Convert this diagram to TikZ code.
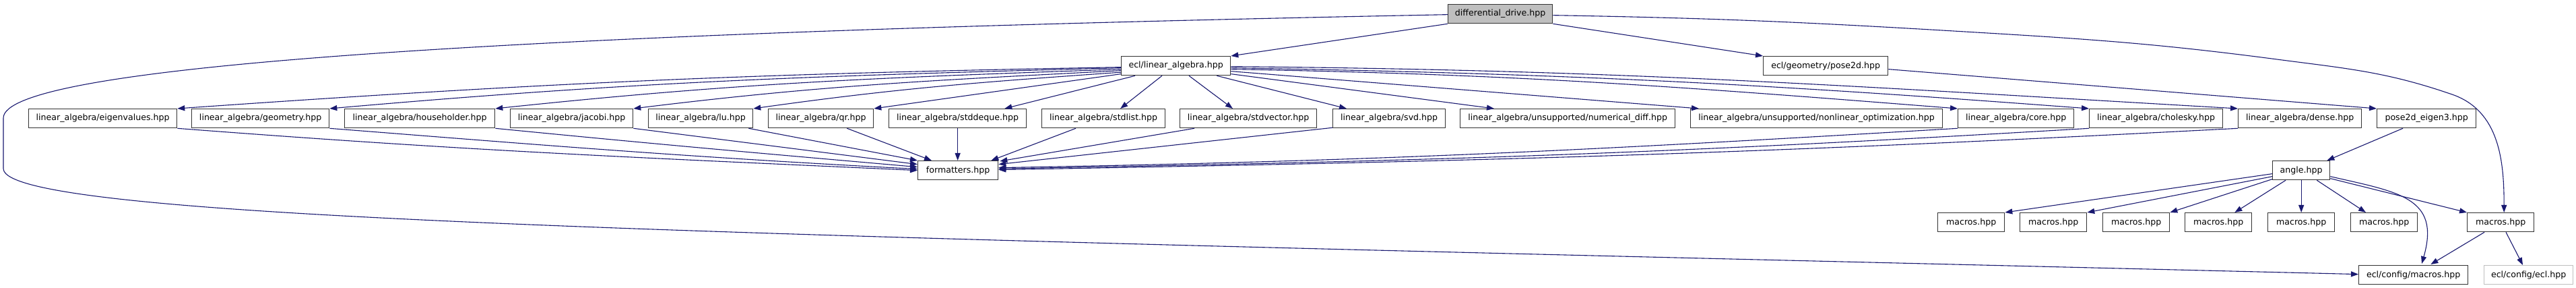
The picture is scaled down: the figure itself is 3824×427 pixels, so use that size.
\documentclass[tikz,border=0pt]{standalone}
\usepackage{fontspec}
\setmainfont{DejaVu Sans}
\usetikzlibrary{arrows.meta,calc}
\definecolor{edgec}{HTML}{191970}
\definecolor{ddfill}{HTML}{BFBFBF}
\definecolor{lightb}{HTML}{BFBFBF}
\begin{document}
\begin{tikzpicture}[x=1pt,y=-1pt,
  box/.style={draw=black!80, line width=1.3pt, fill=white, anchor=north west,
    minimum height=28pt, inner sep=0pt, font=\fontsize{12.6}{14}\selectfont},
  edge/.style={draw=edgec, line width=1.1pt, -{Triangle[length=11pt,width=8pt,fill=edgec]}},
]
\useasboundingbox (0,0) rectangle (3824,427);
% row 0
\node[box, fill=ddfill, minimum width=155pt] (dd) at (2149,6) {differential\_drive.hpp};
% row 1
\node[box, minimum width=162pt] (la) at (1664,83) {ecl/linear\_algebra.hpp};
\node[box, minimum width=185pt] (pose2d) at (2617,83) {ecl/geometry/pose2d.hpp};
% row 2
\node[box, minimum width=220pt] (eig) at (42,161) {linear\_algebra/eigenvalues.hpp};
\node[box, minimum width=204pt] (geo) at (284,161) {linear\_algebra/geometry.hpp};
\node[box, minimum width=223pt] (hh) at (511,161) {linear\_algebra/householder.hpp};
\node[box, minimum width=182pt] (jac) at (757,161) {linear\_algebra/jacobi.hpp};
\node[box, minimum width=155pt] (lu) at (962,161) {linear\_algebra/lu.hpp};
\node[box, minimum width=156pt] (qr) at (1140,161) {linear\_algebra/qr.hpp};
\node[box, minimum width=204pt] (deque) at (1319,161) {linear\_algebra/stddeque.hpp};
\node[box, minimum width=183pt] (list) at (1546,161) {linear\_algebra/stdlist.hpp};
\node[box, minimum width=203pt] (vector) at (1751,161) {linear\_algebra/stdvector.hpp};
\node[box, minimum width=167pt] (svd) at (1978,161) {linear\_algebra/svd.hpp};
\node[box, minimum width=319pt] (numdiff) at (2167,161) {linear\_algebra/unsupported/numerical\_diff.hpp};
\node[box, minimum width=374pt] (nonlin) at (2509,161) {linear\_algebra/unsupported/nonlinear\_optimization.hpp};
\node[box, minimum width=172pt] (core) at (2906,161) {linear\_algebra/core.hpp};
\node[box, minimum width=198pt] (chol) at (3101,161) {linear\_algebra/cholesky.hpp};
\node[box, minimum width=183pt] (dense) at (3322,161) {linear\_algebra/dense.hpp};
\node[box, minimum width=147pt] (pe3) at (3528,161) {pose2d\_eigen3.hpp};
% row 3
\node[box, minimum width=119pt] (fmt) at (1362,238) {formatters.hpp};
\node[box, minimum width=85pt] (angle) at (3373,238) {angle.hpp};
% row 4
\node[box, minimum width=99pt] (m1) at (2876,315) {macros.hpp};
\node[box, minimum width=99pt] (m2) at (2998,315) {macros.hpp};
\node[box, minimum width=99pt] (m3) at (3121,315) {macros.hpp};
\node[box, minimum width=99pt] (m4) at (3243,315) {macros.hpp};
\node[box, minimum width=99pt] (m5) at (3366,315) {macros.hpp};
\node[box, minimum width=99pt] (m6) at (3489,315) {macros.hpp};
\node[box, minimum width=99pt] (m7) at (3662,315) {macros.hpp};
% row 5
\node[box, minimum width=162pt] (cfgm) at (3501,393) {ecl/config/macros.hpp};
\node[box, draw=lightb, minimum width=132pt] (cfge) at (3687,393) {ecl/config/ecl.hpp};

% differential_drive edges
\draw[edge] (dd.south west) -- (la.north east);
\draw[edge] (dd.south east) -- (pose2d.north west);
\draw[edge] ($(dd.east)+(0,2)$)
  .. controls +(-1:233pt) and +(176.6:233pt) .. (2900,46)
  .. controls +(-3.4:189pt) and +(172.5:189pt) .. (3380,88)
  .. controls +(-7.5:104pt) and +(161:104pt) .. (3640,140)
  .. controls +(-19:75pt) and +(90:75pt) .. ($(m7.north)+(5,0)$);
\draw[edge] ($(dd.west)+(0,1)$) .. controls (700,50) and (5,100) .. (5,175) -- (5,250)
  .. controls (5,330) and (1200,350) .. ($(cfgm.west)+(0,-1)$);

% linear_algebra -> headers (left)
\draw[edge] ($(la.west)+(0,2)$) .. controls +(181:549pt) and +(4:549pt) .. (eig.north east);
\draw[edge] ($(la.west)+(0,3)$) .. controls +(181.5:461pt) and +(5:461pt) .. (geo.north east);
\draw[edge] ($(la.west)+(0,5)$) .. controls +(182:365pt) and +(6:365pt) .. (hh.north east);
\draw[edge] ($(la.west)+(0,7)$) .. controls +(183:285pt) and +(7:285pt) .. (jac.north east);
\draw[edge] ($(la.west)+(0,9.5)$) .. controls +(184:215pt) and +(8:215pt) .. (lu.north east);
\draw[edge] ($(la.west)+(0,12)$) -- (qr.north east);
\draw[edge] ($(la.south west)+(21,0)$) -- ($(deque.north east)+(-33,0)$);
% linear_algebra -> headers (right)
\draw[edge] ($(la.south west)+(61,0)$) -- ($(list.north)+(25,0)$);
\draw[edge] ($(la.south west)+(101,0)$) -- ($(vector.north west)+(79,0)$);
\draw[edge] ($(la.south east)+(-21,0)$) -- ($(svd.north west)+(21,0)$);
\draw[edge] ($(la.east)+(0,12)$) -- ($(numdiff.north west)+(51,0)$);
\draw[edge] ($(la.east)+(0,8)$) -- ($(nonlin.north west)+(13,0)$);
\draw[edge] ($(la.east)+(0,5)$) .. controls +(-1:424pt) and +(175.5:424pt) .. (core.north west);
\draw[edge] ($(la.east)+(0,3)$) .. controls +(-1:500pt) and +(175.7:500pt) .. (chol.north west);
\draw[edge] ($(la.east)+(0,1)$) .. controls +(-0.5:586pt) and +(176.7:586pt) .. (dense.north west);

% headers -> formatters
\draw[edge] (eig.south east) .. controls +(-4.4:431pt) and +(177.4:431pt) .. (fmt.west);
\draw[edge] (geo.south east) .. controls +(-4.5:343pt) and +(177:343pt) .. ($(fmt.west)+(0,-2)$);
\draw[edge] (hh.south east) .. controls +(-5.6:247pt) and +(175:247pt) .. ($(fmt.west)+(0,-5)$);
\draw[edge] (jac.south east) -- ($(fmt.west)+(0,-9)$);
\draw[edge] ($(lu.south east)+(-7,0)$) -- (fmt.north west);
\draw[edge] ($(qr.south east)+(-40,0)$) -- ($(fmt.north west)+(21,0)$);
\draw[edge] (deque.south) -- (deque.south |- fmt.north);
\draw[edge] ($(list.south west)+(51,0)$) -- ($(fmt.north east)+(-11,0)$);
\draw[edge] ($(vector.south west)+(22,0)$) -- ($(fmt.north east)+(2,1)$);
\draw[edge] ($(svd.south west)+(0,-1)$) -- ($(fmt.east)+(0,-9)$);
\draw[edge] (core.south west) .. controls +(183.4:558pt) and +(1:558pt) .. ($(fmt.east)+(0,-4)$);
\draw[edge] (chol.south west) .. controls +(183.4:635pt) and +(1:635pt) .. ($(fmt.east)+(0,-2.5)$);
\draw[edge] (dense.south west) .. controls +(183:721pt) and +(1:721pt) .. ($(fmt.east)+(0,-1)$);

% pose2d chain
\draw[edge] ($(pose2d.east)+(0,5)$) -- (pe3.north west);
\draw[edge] ($(pe3.south west)+(39,0)$) -- ($(angle.north east)+(-5,0)$);

% angle -> macros
\draw[edge] ($(angle.west)+(0,5)$) -- (m1.north east);
\draw[edge] ($(angle.west)+(0,9)$) -- (m2.north east);
\draw[edge] ($(angle.west)+(0,13)$) -- (m3.north east);
\draw[edge] ($(angle.south west)+(20,0)$) -- ($(m4.north east)+(-26,0)$);
\draw[edge] (angle.south) -- (angle.south |- m5.north);
\draw[edge] ($(angle.south east)+(-20,0)$) -- ($(m6.north west)+(23,0)$);
\draw[edge] ($(angle.east)+(0,12)$) -- (m7.north west);
\draw[edge] ($(angle.east)+(0,9)$) .. controls +(-13:103pt) and +(74:103pt) .. ($(cfgm.north west)+(94,-2)$);

% macros -> config
\draw[edge] ($(m7.south west)+(26,0)$) -- ($(cfgm.north east)+(-56,-1)$);
\draw[edge] ($(m7.south west)+(58,0)$) -- ($(cfge.north west)+(58,0)$);
\end{tikzpicture}
\end{document}
